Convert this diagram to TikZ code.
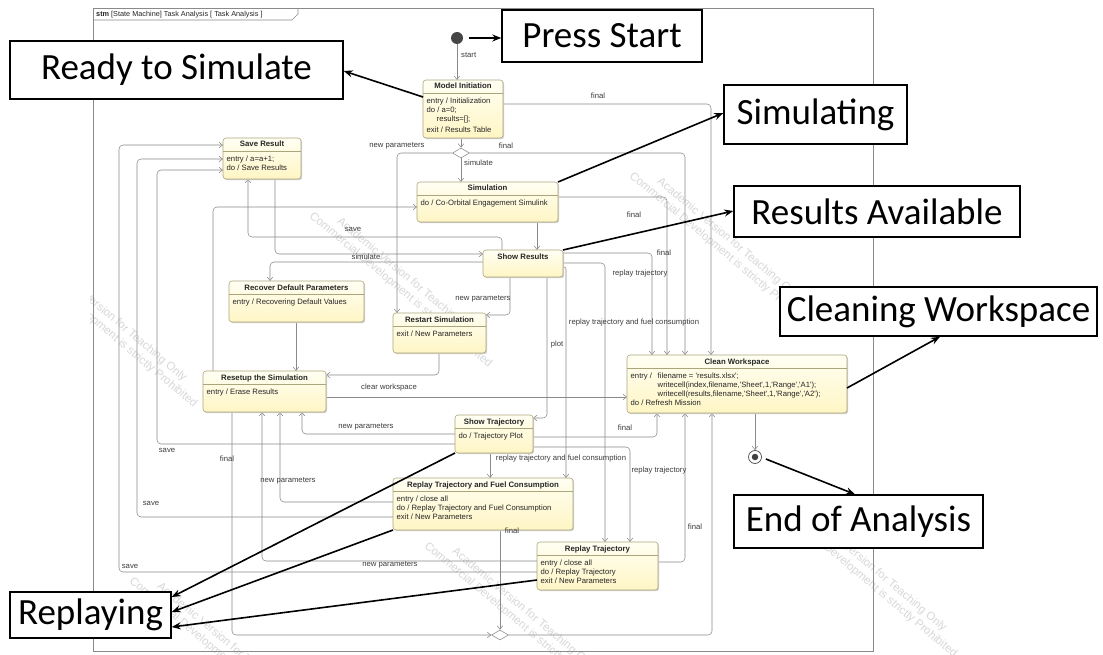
\documentclass[tikz,border=0pt]{standalone}
\usepackage{fontspec}
\setmainfont{Liberation Sans}
\newfontfamily\annofont{Carlito}
\usetikzlibrary{arrows.meta,shapes.geometric,shadows}

\definecolor{stTop}{HTML}{FFFFF3}
\definecolor{stBot}{HTML}{FFF5C4}
\definecolor{stedge}{HTML}{ABA57C}
\definecolor{wire}{HTML}{8A8A8A}
\definecolor{lbltext}{HTML}{3C3C3C}
\definecolor{wmark}{HTML}{D8D8D8}
\definecolor{initgray}{HTML}{454545}

\pgfdeclarelayer{back}
\pgfdeclarelayer{wires}
\pgfsetlayers{back,wires,main}

\newcommand\sq{\textquotesingle}

\tikzset{
  stbox/.style={draw=stedge, line width=0.6pt, rounded corners=3pt,
    top color=stTop, bottom color=stBot, inner sep=0pt, outer sep=0pt,
    general shadow={fill=black!18, shadow xshift=1.2pt, shadow yshift=-1.2pt}},
  sttitle/.style={anchor=base, inner sep=0pt, text=black!85,
    font=\fontsize{7.8}{9}\selectfont\bfseries},
  stbody/.style={anchor=north west, align=left, inner sep=0pt, text=black!85,
    font=\fontsize{7.7}{9}\selectfont},
  stsep/.style={draw=stedge, line width=0.5pt},
  tr/.style={draw=wire, line width=0.55pt, rounded corners=4pt,
    -{Straight Barb[length=3.5pt,width=5.5pt]}},
  lbl/.style={inner sep=0pt, text=lbltext, font=\fontsize{7.7}{9}\selectfont},
  pseudo/.style={diamond, draw=wire, fill=white, line width=0.55pt,
    minimum width=17pt, minimum height=10pt, inner sep=0pt},
  frameline/.style={draw=wire, line width=0.6pt},
  anno/.style={draw=black, line width=1.4pt, fill=white, inner sep=0pt,
    font=\annofont\fontsize{37}{40}\selectfont},
  annoarr/.style={draw=black, line width=1.6pt, -{Stealth[length=9pt,width=7pt]}},
  wm/.style={text=wmark, align=center, inner sep=0pt,
    font=\fontsize{11.5}{13.5}\selectfont},
}

% name, x, y, width, height, title, body
\newcommand\umlstate[7]{%
  \node[stbox, anchor=north west, minimum width=#4pt, minimum height=#5pt] (#1) at (#2,#3) {};
  \node[sttitle] (#1-title) at ([yshift=-9pt]#1.north) {#6};
  \draw[stsep] ([yshift=-13pt]#1.north west) -- ([yshift=-13pt]#1.north east);
  \node[stbody] (#1-body) at ([shift={(3.5pt,-17.3pt)}]#1.north west) {#7};
}

\begin{document}
\begin{tikzpicture}[x=1pt,y=-1pt]
\useasboundingbox (0,0) rectangle (1103,655);

\begin{pgfonlayer}{back}
\fill[white] (0,0) rectangle (1103,655);
% faint licence watermark of the modelling tool, tiled over the diagram
\begin{scope}
  \clip (90,0) rectangle (1000,655);
  \foreach \wx/\wy [count=\i] in {405/285, 725/245, 520/615, 110/325, 870/575, 225/650, 610/-85} {
    \node[wm, rotate=-40] (wm\i) at (\wx,\wy)
      {Academic Version for Teaching Only\\Commercial Development is strictly Prohibited};
  }
\end{scope}
% diagram frame with its name tab
\node[frameline, draw, anchor=north west, minimum width=780pt, minimum height=643pt,
      inner sep=0pt, outer sep=0pt] (frame) at (93,8) {};
\draw[frameline] (93,20) -- (292,20) -- (298,14) -- (298,8);
\node[anchor=west, inner sep=0pt, text=black!85, font=\fontsize{7.3}{9}\selectfont]
  (frame-title) at (96,14.5) {\textbf{stm} [State Machine] Task Analysis [ Task Analysis ]};
\end{pgfonlayer}

% pseudo states
\node[circle, fill=initgray, minimum size=12pt, inner sep=0pt] (init) at (457,38) {};
\node[pseudo] (d1) at (461,153) {};
\node[pseudo] (d2) at (500,635) {};
\node[circle, draw=black!70, fill=white, line width=0.7pt, minimum size=13pt, inner sep=0pt] (fin) at (755,457) {};
\node[circle, fill=black!75, minimum size=6.5pt, inner sep=0pt] (fin-dot) at (fin) {};

% states
\umlstate{mi}{423}{80}{80}{58}{Model Initiation}
  {entry / Initialization\\do / a=0;\\\hspace*{10pt}results=[];\\[2.5pt]exit / Results Table}
\umlstate{sr}{223}{138}{78}{41}{Save Result}
  {entry / a=a+1;\\do / Save Results}
\umlstate{sim}{417}{182}{141}{40}{Simulation}
  {do / Co-Orbital Engagement Simulink}
\node[stbox, anchor=north west, minimum width=80pt, minimum height=27pt] (shr) at (483,250) {};
\node[sttitle] (shr-title) at ([yshift=-9pt]shr.north) {Show Results};
\umlstate{rdp}{229}{281}{135}{41}{Recover Default Parameters}
  {entry / Recovering Default Values}
\umlstate{rs}{393}{313}{93}{40}{Restart Simulation}
  {exit / New Parameters}
\umlstate{rsu}{203}{371}{123}{41}{Resetup the Simulation}
  {entry / Erase Results}
\umlstate{cw}{627}{355}{220}{58}{Clean Workspace}
  {\makebox[27pt][l]{entry /}filename = \sq results.xlsx\sq;\\
   \hspace*{27pt}writecell(index,filename,\sq Sheet\sq,1,\sq Range\sq,\sq A1\sq);\\
   \hspace*{27pt}writecell(results,filename,\sq Sheet\sq,1,\sq Range\sq,\sq A2\sq);\\
   do / Refresh Mission}
\umlstate{st}{455}{415}{78}{38}{Show Trajectory}
  {do / Trajectory Plot}
\umlstate{rtf}{393}{478}{180}{52}{Replay Trajectory and Fuel Consumption}
  {entry / close all\\do / Replay Trajectory and Fuel Consumption\\exit / New Parameters}
\umlstate{rt}{537}{542}{121}{48}{Replay Trajectory}
  {entry / close all\\do / Replay Trajectory\\exit / New Parameters}

% transitions
\begin{pgfonlayer}{wires}
\draw[tr] (init.south) -- (mi.north -| init.south);
\draw[tr] (mi.south -| d1.north) -- (d1.north);
\draw[tr] (d1.west) -| (rs.north -| 397,0);
\draw[tr] (d1.east) -| (cw.north -| 685,0);
\draw[tr] (d1.south) -- (sim.north -| d1.south);
\draw[tr] (mi.east |- 0,104) -| (cw.north -| 711,0);
\draw[tr] (sim.east |- 0,197) -| (cw.north -| 667,0);
\draw[tr] (sim.south -| 537,0) -- (shr.north -| 537,0);
\draw[tr] (shr.east |- 0,253) -| (cw.north -| 652,0);
\draw[tr] (shr.east |- 0,263) -| (rt.north -| 605,0);
\draw[tr, rounded corners=2pt] (shr.east |- 0,267) -- (566,267) -- (rtf.north -| 566,0);
\draw[tr] (shr.south -| 547,0) |- (st.east |- 0,418);
\draw[tr] (shr.south -| 510,0) |- (rs.east |- 0,315);
\draw[tr] (shr.north -| 502,0) |- (248,237) -- (sr.south -| 248,0);
\draw[tr] (sr.south -| 275,0) |- (shr.west |- 0,254);
\draw[tr] (shr.west |- 0,262) -| (rdp.north -| 270,0);
\draw[tr] (rdp.south -| 296,0) -- (rsu.north -| 296,0);
\draw[tr] (rs.south -| 439,0) |- (rsu.east |- 0,375);
\draw[tr] (rsu.north -| 213,0) |- (sim.west |- 0,207);
\draw[tr] (rsu.east |- 0,397) -- (cw.west |- 0,397);
\draw[tr] (rsu.south -| 232,0) |- (d2.west);
\draw[tr] (d2.east) -| (cw.south -| 712,0);
\draw[tr] (rtf.south -| d2.north) -- (d2.north);
\draw[tr] (cw.south -| fin.north) -- (fin.north);
\draw[tr] (st.west |- 0,434) -| (rsu.south -| 302,0);
\draw[tr] (st.west |- 0,444) -| (157,170) -- (sr.west |- 0,170);
\draw[tr] (st.east |- 0,437) -| (cw.south -| 657,0);
\draw[tr] (st.east |- 0,447) -| (rt.north -| 630,0);
\draw[tr] (st.south -| 490,0) -- (rtf.north -| 490,0);
\draw[tr] (rtf.west |- 0,502) -| (rsu.south -| 280,0);
\draw[tr] (rtf.west |- 0,517) -| (137,159) -- (sr.west |- 0,159);
\draw[tr] (rt.west |- 0,561) -| (rsu.south -| 262,0);
\draw[tr] (rt.west |- 0,572) -| (119,145) -- (sr.west |- 0,145);
\draw[tr] (rt.east |- 0,562) -| (cw.south -| 685,0);
\end{pgfonlayer}

% transition labels
\node[lbl, anchor=west] (l-start) at (461,55) {start};
\node[lbl] (l-d1np) at (397,146) {new parameters};
\node[lbl] (l-d1fi) at (506,146) {final};
\node[lbl, anchor=west] (l-d1si) at (464,163) {simulate};
\node[lbl] (l-mifi) at (598,96) {final};
\node[lbl] (l-simfi) at (634,215) {final};
\node[lbl] (l-shrfi) at (664,253) {final};
\node[lbl] (l-shrrt) at (640,274) {replay trajectory};
\node[lbl] (l-shrrtf) at (634,323) {replay trajectory and fuel consumption};
\node[lbl] (l-plot) at (557,345) {plot};
\node[lbl] (l-shrnp) at (483,299) {new parameters};
\node[lbl] (l-save1) at (353,229) {save};
\node[lbl] (l-sim2) at (366,257) {simulate};
\node[lbl] (l-clear) at (389,388) {clear workspace};
\node[lbl] (l-rsufi) at (227,459) {final};
\node[lbl] (l-rtffi) at (512,531) {final};
\node[lbl] (l-stnp) at (366,427) {new parameters};
\node[lbl] (l-stsave) at (167,450) {save};
\node[lbl] (l-stfi) at (625,428) {final};
\node[lbl] (l-strt) at (659,471) {replay trajectory};
\node[lbl] (l-strtf) at (561,459) {replay trajectory and fuel consumption};
\node[lbl] (l-rtfnp) at (288,481) {new parameters};
\node[lbl] (l-rtfsave) at (151,503) {save};
\node[lbl] (l-rtnp) at (390,565) {new parameters};
\node[lbl] (l-rtsave) at (130,566) {save};
\node[lbl] (l-rtfi) at (695,527) {final};

% annotation call-outs
\node[anno, minimum width=200pt, minimum height=52pt] (ps) at (602,36) {Press Start};
\node[anno, minimum width=333pt, minimum height=58pt] (rts) at (176.5,70) {Ready to Simulate};
\node[anno, minimum width=183pt, minimum height=59pt] (simg) at (815.5,114.5) {Simulating};
\node[anno, minimum width=286pt, minimum height=51pt] (ra) at (877,211.5) {Results Available};
\node[anno, minimum width=317pt, minimum height=49pt] (cws) at (938.5,311.5) {Cleaning Workspace};
\node[anno, minimum width=249pt, minimum height=53pt] (eoa) at (858.5,521.5) {End of Analysis};
\node[anno, minimum width=161pt, minimum height=46pt] (rpl) at (90.5,615) {Replaying};

\draw[annoarr, line width=1.3pt] ([xshift=6pt]init.east) -- (ps.west |- init.east);
\draw[annoarr] (mi.west |- 0,97) -- (rts.east |- 0,71);
\draw[annoarr] (sim.north east) -- (simg.west |- 0,113);
\draw[annoarr] (shr.north east) -- (ra.west |- 0,211);
\draw[annoarr] (cw.east |- 0,388) -- (cws.south -| 940,0);
\draw[annoarr] ([shift={(4pt,-2pt)}]fin.east) -- (eoa.north -| 855,0);
\draw[annoarr] (st.south west) -- (rpl.east |- 0,597);
\draw[annoarr] (rtf.south west) -- (rpl.east |- 0,612);
\draw[annoarr] (rt.west |- 0,580) -- (rpl.east |- 0,627);
\end{tikzpicture}
\end{document}
